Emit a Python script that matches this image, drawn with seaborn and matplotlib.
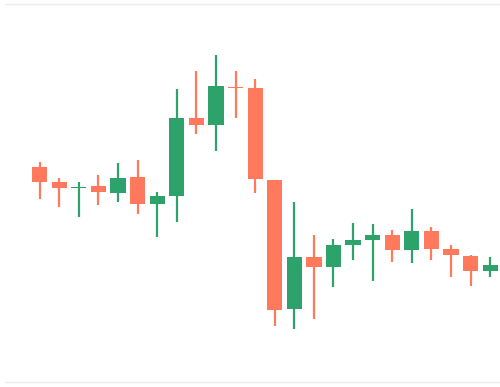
import matplotlib
matplotlib.use("Agg")
import matplotlib.pyplot as plt
import numpy as np
import pandas as pd
import seaborn as sns

opens  = [58.3, 54.6, 52.9, 53.5, 51.7, 55.7, 49.1, 51.0, 70.5, 68.8, 78.3, 77.9,
          55.0, 22.7, 35.8, 33.2, 38.75, 39.9, 41.3, 37.4, 42.25, 37.7, 36.1, 32.3]
highs  = [59.6, 55.4, 54.4, 56.3, 59.3, 60.0, 52.1, 77.75, 82.3, 86.2, 82.2, 80.25,
          55.0, 49.5, 41.25, 40.2, 44.2, 44.0, 42.5, 47.8, 43.25, 38.8, 36.3, 35.75]
lows   = [50.2, 48.2, 45.75, 48.75, 49.6, 46.4, 40.8, 44.6, 66.4, 62.3, 70.6, 51.8,
          18.6, 17.8, 20.25, 28.2, 34.9, 29.75, 34.4, 34.2, 35.0, 30.8, 28.6, 30.7]
closes = [54.6, 52.9, 53.3, 51.9, 55.6, 49.0, 51.1, 70.5, 68.75, 78.4, 77.9, 55.25,
          22.5, 35.8, 33.2, 38.75, 39.9, 41.25, 37.5, 42.25, 37.7, 36.2, 32.25, 33.75]

df = pd.DataFrame({"open": opens, "high": highs, "low": lows, "close": closes})
df["idx"] = np.arange(len(df))

UP = "#2ea26b"
DOWN = "#ff7a5c"

sns.set_theme(style="white")
fig = plt.figure(figsize=(5.0, 3.87), dpi=100)
ax = fig.add_axes([5 / 500, 5 / 387, 495 / 500, 378.5 / 387])

colors = [UP if c >= o else DOWN for o, c in zip(df["open"], df["close"])]
bottoms = np.minimum(df["open"], df["close"])
heights = np.maximum(np.abs(df["close"] - df["open"]), 0.35)

ax.vlines(df["idx"], df["low"], df["high"], colors=colors, linewidth=1.6, zorder=1)
ax.bar(df["idx"], heights, bottom=bottoms, width=0.78, color=colors,
       edgecolor="none", linewidth=0, zorder=2)

ax.set_xlim(-1.77, 23.5)
ax.set_ylim(4.5, 99.1)
ax.set_xticks([])
ax.set_yticks([])
for s in ["left", "right"]:
    ax.spines[s].set_visible(False)
for s in ["top", "bottom"]:
    ax.spines[s].set_color("#ededed")
    ax.spines[s].set_linewidth(1.0)

fig.savefig("out.png", dpi=100, facecolor="white")
